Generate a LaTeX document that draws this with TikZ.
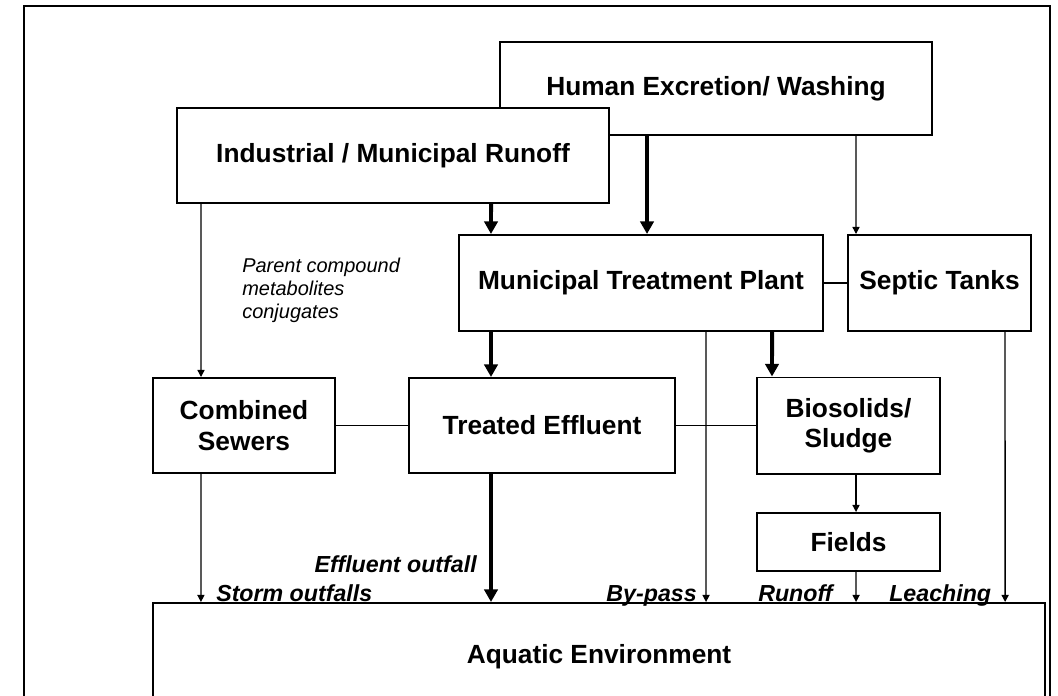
\documentclass[tikz,border=0pt]{standalone}
\usepackage{fontspec}
\setmainfont{Liberation Sans}
\usetikzlibrary{arrows.meta}

\begin{document}
\begin{tikzpicture}[
    x=0.025cm, y=-0.025cm,
    % every source / sink is a flat white box with a firm black rule round it
    box/.style={draw, line width=1.4pt, fill=white, align=center, inner sep=0pt,
                font=\bfseries\fontsize{18.7}{21.5}\selectfont},
    % ordinary pathways are hairlines, the main sewage route is heavy
    flow/.style={line width=0.95pt, -{Triangle[length=5pt, width=5pt]}},
    mainflow/.style={line width=2.8pt, -{Triangle[length=9pt, width=9.5pt]}},
    link/.style={line width=0.95pt},
    note/.style={font=\itshape\fontsize{14.2}{16.2}\selectfont, align=left, inner sep=0pt},
    outlab/.style={font=\bfseries\itshape\fontsize{16.5}{18}\selectfont, inner sep=0pt},
]
\useasboundingbox (0,0) rectangle (1058,696);
\draw[line width=2.1pt] (24,6) rectangle (1050,730);

%================= ROW 1 : the two sources =================%
\node[box, minimum width=10.8cm, minimum height=2.325cm] (human)      at (716,88.5)  {Human Excretion/ Washing};
\node[box, minimum width=10.8cm, minimum height=2.375cm] (industrial) at (393,155.5) {Industrial / Municipal Runoff};

%================= ROW 2 : treatment =================%
\node[box, minimum width=9.1cm,   minimum height=2.4cm] (mtp)    at (641,283)   {Municipal Treatment Plant};
\node[box, minimum width=4.575cm, minimum height=2.4cm] (septic) at (939.5,283) {Septic Tanks};

%================= ROW 3 : what leaves the plant =================%
\node[box, minimum width=4.55cm,  minimum height=2.375cm] (sewers)    at (244,425.5)   {Combined\\Sewers};
\node[box, minimum width=6.65cm,  minimum height=2.375cm] (effluent)  at (542,425.5)   {Treated Effluent};
\node[box, minimum width=4.575cm, minimum height=2.4cm]   (biosolids) at (848.5,425.5) {Biosolids/\\Sludge};
\node[box, minimum width=4.575cm, minimum height=1.45cm]  (fields)    at (848.5,542)   {Fields};

%================= the receiving water =================%
\node[box, minimum width=22.3cm, minimum height=2.675cm] (aquatic) at (599,656.5) {Aquatic Environment};

%================= sources -> treatment =================%
\draw[flow]     ([xshift=0.625cm]industrial.south west) -- ([xshift=1.225cm]sewers.north west);
\draw[mainflow] ([xshift=7.875cm]industrial.south west) -- ([xshift=0.825cm]mtp.north west);
\draw[mainflow] ([xshift=3.7cm]human.south west)        -- ([xshift=4.725cm]mtp.north west);
\draw[flow]     ([xshift=8.925cm]human.south west)      -- ([xshift=0.225cm]septic.north west);
\draw[link] (mtp.east) -- (septic.west);

%================= treatment -> products =================%
\draw[mainflow] ([xshift=0.825cm]mtp.south west) -- ([xshift=2.075cm]effluent.north west);
\draw[mainflow] ([xshift=7.85cm]mtp.south west)  -- ([xshift=0.4cm]biosolids.north west);
\draw[link] (sewers.east) -- (effluent.west);
\draw[link] (effluent.east) -- (biosolids.west);
\draw[flow] ([xshift=2.5cm]biosolids.south west) -- ([xshift=2.5cm]fields.north west);

%================= everything ends in the water =================%
\draw[flow]     ([xshift=1.225cm]sewers.south west)   -- ([xshift=1.225cm]aquatic.north west);
\draw[mainflow] ([xshift=2.075cm]effluent.south west) -- ([xshift=8.475cm]aquatic.north west);
\draw[flow]     ([xshift=6.2cm]mtp.south west)        -- ([xshift=13.85cm]aquatic.north west);
\draw[flow]     ([xshift=2.5cm]fields.south west)     -- ([xshift=17.6cm]aquatic.north west);
\draw[flow]     ([xshift=3.95cm]septic.south west)    -- ([xshift=21.325cm]aquatic.north west);

%================= labels =================%
\node[note, anchor=north west] (parent) at (242,258) {Parent compound\\metabolites\\conjugates};
\node[outlab, anchor=base east] (effout) at (477,572) {Effluent outfall};
\node[outlab, anchor=base west] (storm)  at (216,601) {Storm outfalls};
\node[outlab, anchor=base east] (bypass) at (697,601) {By-pass};
\node[outlab, anchor=base west] (runoff) at (758,601) {Runoff};
\node[outlab, anchor=base west] (leach)  at (889,601) {Leaching};

\end{tikzpicture}
\end{document}
